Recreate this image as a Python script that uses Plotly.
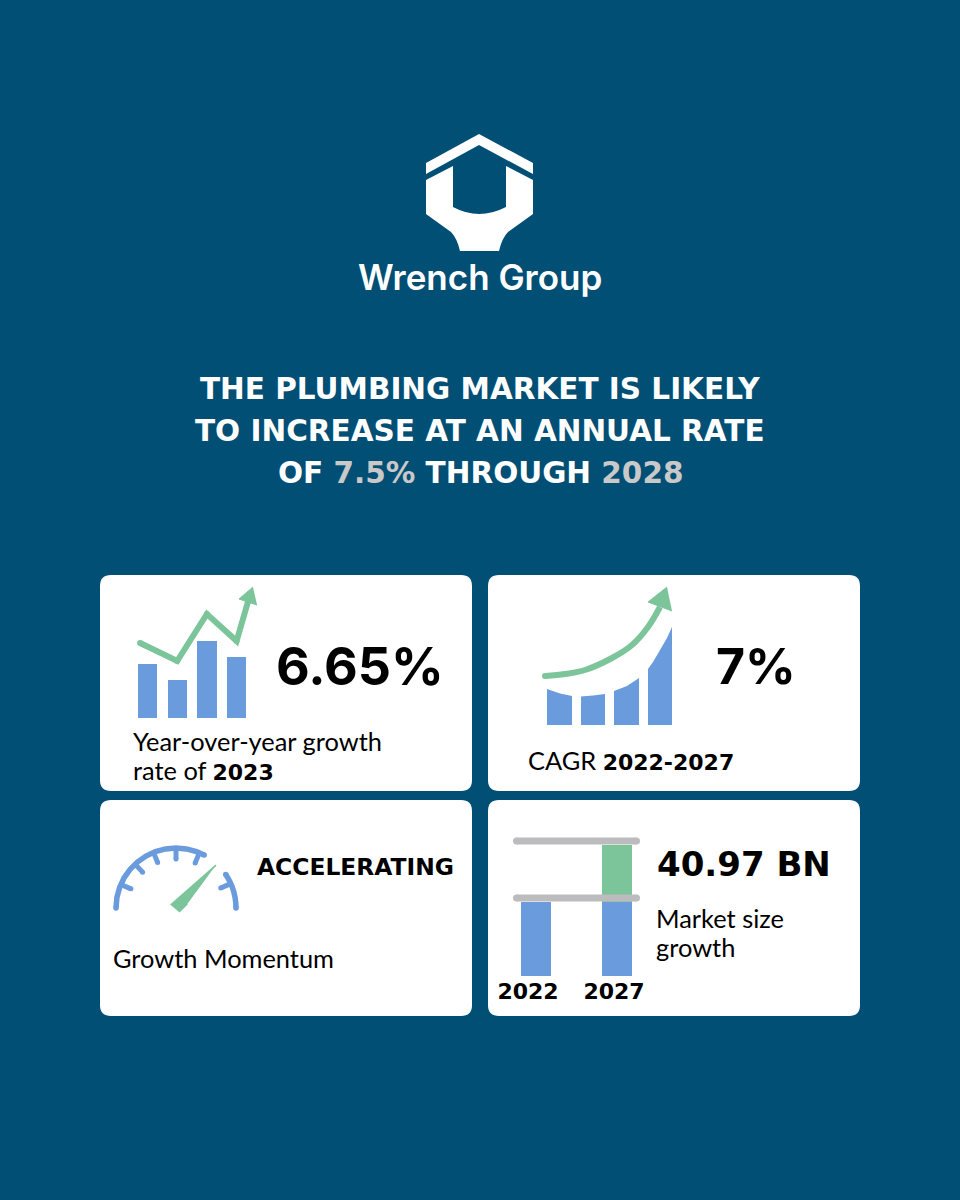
import plotly.graph_objects as go

BG = '#014f75'
BLUE = '#6a9bdd'
GREEN = '#7cc59b'
GRAY = '#bcbcbe'
BOLD_FONT = 'Inter'
WIDE_FONT = 'DejaVu Sans'
TEXT_FONT = 'Lato'

# yearly bars, card 1
yoy_bars = [54, 38, 77, 61]
yoy_line_x = [-0.25, 1, 2, 3, 3.38]
yoy_line_y = [75, 57, 104, 77, 116]
yoy_head_x = [3.55, 3.08, 3.69]
yoy_head_y = [131, 119, 113]

# curved bars, card 2
cagr_bar_x = [[0, 13, 25], [34, 46, 58], [67, 80, 92], [101, 106, 113, 120, 125]]
cagr_bar_top = [[36, 31.5, 29], [28.5, 29.5, 31], [34, 39, 47], [56, 63, 75, 87, 98]]
cagr_line_x = [-2, 18, 38, 65, 85, 101, 113]
cagr_line_y = [49, 51, 55, 67, 80, 98, 118]
cagr_head_x = [120, 101, 125]
cagr_head_y = [138, 123, 114]

# gauge, card 3
arc_left_theta = [180, 170, 160, 150, 140, 130, 120, 110, 100, 90, 80, 70, 62]
arc_right_theta = [34, 30, 25, 20, 15, 10, 5, 0]
gauge_ticks = [157, 133, 112, 90, 67, 24]
needle_r = [58.7, 6, 5, 12]
needle_theta = [47, 143, -45, 20]

# market size, card 4
years = ['2022', '2027']
market_x = [31, 112]
market_tick_x = [23, 109]
market_base = [74, 74]
market_growth = [0, 57]
market_levels = [135, 78]
level_x = [11.5, 131.5]


def dom_x(a, b):
    return [a / 960, b / 960]


def dom_y(top, bottom):
    return [1 - bottom / 1200, 1 - top / 1200]


def card(x0, y0, x1, y1, r=11):
    return (f'M{x0+r},{y0} L{x1-r},{y0} Q{x1},{y0} {x1},{y0+r} L{x1},{y1-r} Q{x1},{y1} {x1-r},{y1} '
            f'L{x0+r},{y1} Q{x0},{y1} {x0},{y1-r} L{x0},{y0+r} Q{x0},{y0} {x0+r},{y0} Z')


ROOF = 'M479,134 L533,163 L533,174 L479,145 L426,174 L426,163 Z'
WRENCH = ('M426,180 L453,166 L453,207 Q479,221 506,207 L506,166 L533,180 L533,214 L508,232 '
          'Q502,238 499,251 L460,251 Q457,238 451,232 L426,214 Z')

fig = go.Figure()

# card 1
fig.add_trace(go.Bar(x=[0, 1, 2, 3], y=yoy_bars, width=0.65, marker=dict(color=BLUE, line=dict(width=0)),
                     xaxis='x2', yaxis='y2'))
fig.add_trace(go.Scatter(x=yoy_line_x, y=yoy_line_y, mode='lines+markers', line=dict(color=GREEN, width=6),
                         marker=dict(color=GREEN, size=6), xaxis='x2', yaxis='y2'))
fig.add_trace(go.Scatter(x=yoy_head_x, y=yoy_head_y, mode='lines', fill='toself', fillcolor=GREEN,
                         line=dict(color=GREEN, width=1), xaxis='x2', yaxis='y2'))

# card 2
for bx, top in zip(cagr_bar_x, cagr_bar_top):
    fig.add_trace(go.Scatter(x=[bx[0]] + bx + [bx[-1], bx[0]], y=[0] + top + [0, 0], mode='lines', fill='toself',
                             fillcolor=BLUE, line=dict(width=0), xaxis='x3', yaxis='y3'))
fig.add_trace(go.Scatter(x=cagr_line_x, y=cagr_line_y, mode='lines', line=dict(color=GREEN, width=6, shape='spline'),
                         xaxis='x3', yaxis='y3'))
fig.add_trace(go.Scatter(x=cagr_line_x[:1], y=cagr_line_y[:1], mode='markers', marker=dict(color=GREEN, size=6),
                         xaxis='x3', yaxis='y3'))
fig.add_trace(go.Scatter(x=cagr_head_x, y=cagr_head_y, mode='lines', fill='toself', fillcolor=GREEN,
                         line=dict(color=GREEN, width=1), xaxis='x3', yaxis='y3'))

# card 3
for arc in (arc_left_theta, arc_right_theta):
    fig.add_trace(go.Scatterpolar(r=[60] * len(arc), theta=arc, mode='lines', line=dict(color=BLUE, width=5.5),
                                  subplot='polar'))
    fig.add_trace(go.Scatterpolar(r=[60, 60], theta=[arc[0], arc[-1]], mode='markers',
                                  marker=dict(color=BLUE, size=5.5), subplot='polar'))
for t in gauge_ticks:
    fig.add_trace(go.Scatterpolar(r=[60, 49], theta=[t, t], mode='lines', line=dict(color=BLUE, width=5),
                                  subplot='polar'))
    fig.add_trace(go.Scatterpolar(r=[49], theta=[t], mode='markers', marker=dict(color=BLUE, size=5),
                                  subplot='polar'))
fig.add_trace(go.Scatterpolar(r=needle_r, theta=needle_theta, mode='lines', fill='toself', fillcolor=GREEN,
                              line=dict(color=GREEN, width=1.5), subplot='polar'))

# card 4
fig.add_trace(go.Bar(x=market_x, y=market_base, width=30, marker=dict(color=BLUE, line=dict(width=0)),
                     xaxis='x4', yaxis='y4'))
fig.add_trace(go.Bar(x=market_x, y=market_growth, width=30, marker=dict(color=GREEN, line=dict(width=0)),
                     xaxis='x4', yaxis='y4'))
for level in market_levels:
    fig.add_trace(go.Scatter(x=level_x, y=[level, level], mode='lines+markers', line=dict(color=GRAY, width=7),
                             marker=dict(color=GRAY, size=7), xaxis='x4', yaxis='y4'))

hidden = dict(visible=False, showgrid=False, zeroline=False)
fig.update_layout(
    width=960, height=1200, autosize=False, showlegend=False, barmode='stack',
    margin=dict(l=0, r=0, t=0, b=0, pad=0, autoexpand=False),
    paper_bgcolor=BG, plot_bgcolor='rgba(0,0,0,0)',
    xaxis=dict(range=[0, 960], domain=[0, 1], **hidden),
    yaxis=dict(range=[1200, 0], domain=[0, 1], **hidden),
    xaxis2=dict(range=[-0.5, 4], domain=dom_x(132.65, 266.3), anchor='y2', **hidden),
    yaxis2=dict(range=[0, 140], domain=dom_y(578, 718), anchor='x2', **hidden),
    xaxis3=dict(range=[-10, 135], domain=dom_x(537, 682), anchor='y3', **hidden),
    yaxis3=dict(range=[0, 145], domain=dom_y(580, 725), anchor='x3', **hidden),
    xaxis4=dict(range=[0, 145], domain=dom_x(505, 650), anchor='y4', showgrid=False, zeroline=False,
                showline=False, ticks='', tickvals=market_tick_x, ticktext=years, tickangle=0,
                tickfont=dict(family=WIDE_FONT, size=22, color='black', weight=700)),
    yaxis4=dict(range=[0, 145], domain=dom_y(831, 976), anchor='x4', **hidden),
    polar=dict(domain=dict(x=dom_x(110, 242), y=dom_y(842, 974)), bgcolor='rgba(0,0,0,0)', sector=[0, 360],
               radialaxis=dict(visible=False, range=[0, 66]),
               angularaxis=dict(visible=False, rotation=0, direction='counterclockwise')),
)

for x0, y0 in [(100, 575), (488, 575), (100, 800), (488, 800)]:
    fig.add_shape(type='path', path=card(x0, y0, x0 + 372, y0 + 216), xref='x', yref='y',
                  fillcolor='white', line=dict(width=0), layer='below')
fig.add_shape(type='path', path=ROOF, xref='x', yref='y', fillcolor='white', line=dict(width=0), layer='below')
fig.add_shape(type='path', path=WRENCH, xref='x', yref='y', fillcolor='white', line=dict(width=0), layer='below')


def label(text, x, y, size, anchor='left', color='black', family=TEXT_FONT, weight=400):
    fig.add_annotation(text=text, x=x, y=y, xref='x', yref='y', showarrow=False, xanchor=anchor, yanchor='middle',
                       align=anchor, borderpad=0,
                       font=dict(family=family, size=size, color=color, weight=weight))


def wide(text):
    return f'<span style="font-family:{WIDE_FONT};font-weight:700;font-size:22px">{text}</span>'


label('Wrench Group', 480, 277, 35, 'center', 'white', BOLD_FONT, 600)
label('THE PLUMBING MARKET IS LIKELY', 480, 389, 29.5, 'center', 'white', WIDE_FONT, 700)
label('TO INCREASE AT AN ANNUAL RATE', 480, 431, 29.5, 'center', 'white', WIDE_FONT, 700)
label('OF <span style="color:#c9c9c9">7.5%</span> THROUGH <span style="color:#c9c9c9">2028</span>',
      480, 473, 29.5, 'center', 'white', WIDE_FONT, 700)

label('6.65%', 275, 666, 52, 'left', 'black', BOLD_FONT, 700)
label('7%', 715, 666, 50, 'left', 'black', BOLD_FONT, 700)
label('Year-over-year growth', 132, 741, 25.4)
label('rate of ' + wide('2023'), 132, 770, 25.4)
label('CAGR ' + wide('2022-2027'), 527, 760, 25.4)
label('ACCELERATING', 256, 867, 23.4, 'left', 'black', WIDE_FONT, 700)
label('Growth Momentum', 112, 958, 25.4)
label('40.97 BN', 656, 864, 34, 'left', 'black', WIDE_FONT, 700)
label('Market size', 655, 918, 25.4)
label('growth', 655, 947, 25.4)

fig.write_html("out.html", config=dict(displayModeBar=False),
               post_script="document.body.style.margin='0';document.body.style.background='" + BG + "';")
